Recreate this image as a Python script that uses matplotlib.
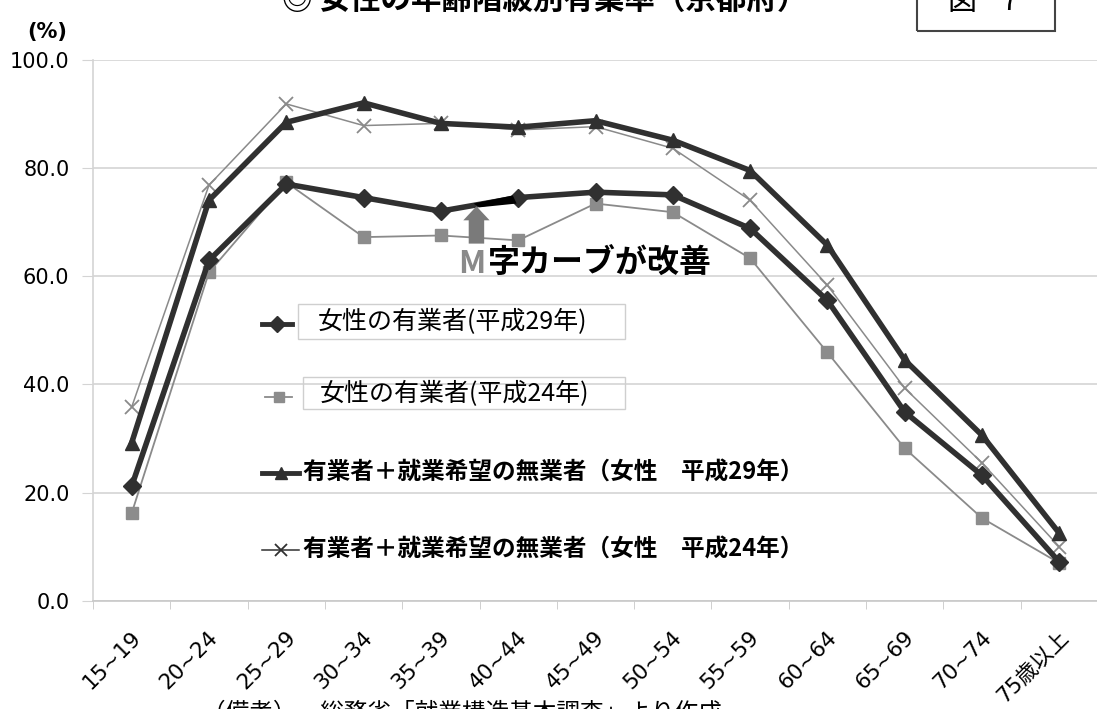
import numpy as np
import matplotlib.pyplot as plt
from matplotlib.lines import Line2D
from matplotlib.patches import Rectangle, FancyArrow, Polygon
import matplotlib.transforms as mtrans

# 年齢階級
ages = ['15~19', '20~24', '25~29', '30~34', '35~39', '40~44', '45~49',
        '50~54', '55~59', '60~64', '65~69', '70~74', '75歳以上']
# 有業率 (%)
emp_h29 = [21.2, 62.9, 77.0, 74.5, 72.0, 74.5, 75.5, 75.0, 68.8, 55.5, 34.9, 23.2, 7.2]
emp_h24 = [16.2, 60.7, 77.3, 67.2, 67.5, 66.6, 73.4, 71.8, 63.3, 45.9, 28.2, 15.3, 7.0]
want_h29 = [29.2, 74.0, 88.4, 92.0, 88.2, 87.5, 88.7, 85.1, 79.5, 65.7, 44.5, 30.6, 12.5]
want_h24 = [35.8, 76.8, 91.8, 87.8, 88.2, 87.0, 87.6, 83.6, 74.0, 58.3, 39.3, 25.5, 10.0]
yticks = [0, 20, 40, 60, 80, 100]

labels = ['女性の有業者(平成29年)', '女性の有業者(平成24年)',
          '有業者＋就業希望の無業者（女性　平成29年）',
          '有業者＋就業希望の無業者（女性　平成24年）']

CJK = ['Noto Sans CJK JP', 'DejaVu Sans']
plt.rcParams['font.family'] = ['DejaVu Sans', 'Noto Sans CJK JP']

W, H = 1097, 709
fig = plt.figure(figsize=(W / 100, H / 100), dpi=100)


def px(x, y):
    return x / W, 1 - y / H


ax = fig.add_axes([93 / W, 1 - 601 / H, 1005 / W, 541.5 / H])
x = np.arange(len(ages))

dark = '#303030'
grey = '#8a8a8a'
ax.plot(x, emp_h24, color=grey, lw=1.3, marker='s', ms=8, mfc='#8c8c8c', mec='#8c8c8c', zorder=3)
ax.plot(x, want_h24, color=grey, lw=1.1, marker='x', ms=10, mew=1.3, zorder=3)
ax.plot(x, emp_h29, color=dark, lw=4, marker='D', ms=9, zorder=4)
ax.plot(x, want_h29, color=dark, lw=4, marker='^', ms=10, zorder=4)

ax.set_xlim(-0.5, 12.5)
ax.set_ylim(0, 100)
ax.set_yticks(yticks)
ax.set_yticklabels(['%.1f' % v for v in yticks])
ax.yaxis.grid(True, color='#d4d4d4', lw=1.2)
ax.set_axisbelow(True)
for s in ['top', 'right']:
    ax.spines[s].set_visible(False)
ax.spines['left'].set_color('#d4d4d4')
ax.spines['bottom'].set_color('#c8c8c8')
ax.spines['left'].set_linewidth(1.2)
ax.spines['bottom'].set_linewidth(1.2)
ax.tick_params(axis='y', length=8, color='#d4d4d4', labelsize=15, pad=9)

ax.set_xticks(x)
ax.set_xticklabels(ages, rotation=45, ha='right', va='center',
                   rotation_mode='anchor', fontsize=15.5)
ax.set_xticks(np.arange(-0.5, 13, 1), minor=True)
ax.tick_params(axis='x', which='major', length=0, pad=24)
ax.tick_params(axis='x', which='minor', length=6, color='#c8c8c8')
off = mtrans.ScaledTranslation(6 / 100, 0, fig.dpi_scale_trans)
for lab in ax.get_xticklabels():
    lab.set_transform(lab.get_transform() + off)

# 凡例（手作り）
def key(x0, x1, y, **kw):
    xa, ya = px(x0, y)
    xb, _ = px(x1, y)
    fig.add_artist(Line2D([xa, (xa + xb) / 2, xb], [ya, ya, ya], markevery=[1],
                          transform=fig.transFigure, **kw))

key(262, 292, 324, color=dark, lw=3.5, marker='D', ms=8)
key(265, 292, 397, color=grey, lw=1.3, marker='s', ms=7, mfc='#8c8c8c', mec='#8c8c8c')
key(262, 299, 473, color=dark, lw=3.5, marker='^', ms=8)
key(262, 299, 550, color=dark, lw=1.1, marker='x', ms=9, mew=1.3)

for (bx0, by0, bx1, by1) in [(298, 304, 625, 339), (303, 377, 625, 409)]:
    fig.add_artist(Rectangle(px(bx0, by1), (bx1 - bx0) / W, (by1 - by0) / H,
                             transform=fig.transFigure, fill=False,
                             ec='#cfcfcf', lw=1))
fig.text(*px(318, 322), labels[0], family=CJK, fontsize=18, va='center')
fig.text(*px(320, 394), labels[1], family=CJK, fontsize=18, va='center')
fig.text(*px(303, 473), labels[2], family=CJK, fontsize=17, va='center', fontweight='bold')
fig.text(*px(303, 550), labels[3], family=CJK, fontsize=17, va='center', fontweight='bold')

# 注記
ax.add_patch(FancyArrow(4.46, 66.0, 0, 6.9, width=0.2, head_width=0.34,
                        head_length=2.6, length_includes_head=True,
                        fc='#7a7a7a', ec='none', zorder=5))
ax.add_patch(Polygon([(4.42, 73.4), (4.93, 74.9), (4.98, 73.4), (4.50, 72.7)],
                     closed=True, fc='black', ec='none', zorder=5))
fig.text(*px(458, 264), 'M', family=CJK, fontsize=23, fontweight='bold',
         color='#8a8a8a', va='center')
fig.text(*px(488, 264), '字カーブが改善', family=CJK, fontsize=23,
         fontweight='bold', color='black', va='center')

# タイトル・図番号
fig.text(*px(545, 0), '◎ 女性の年齢階級別有業率（京都府）', family=CJK,
         fontsize=22, fontweight='bold', ha='center', va='center')
fig.add_artist(Rectangle(px(917, 31), 138 / W, 40 / H, transform=fig.transFigure,
                         fill=False, ec='#444444', lw=1.5))
fig.text(*px(962, 2), '図', family=CJK, fontsize=21, ha='center', va='center')
fig.text(*px(1010, 2), '7', family=CJK, fontsize=21, ha='center', va='center')
fig.text(*px(47, 32), '(%)', fontsize=15, fontweight='bold', ha='center', va='center')

fig.text(*px(202, 713), '（備考）　総務省「就業構造基本調査」より作成', family=CJK,
         fontsize=17, va='center')

fig.savefig('out.png', dpi=100)
